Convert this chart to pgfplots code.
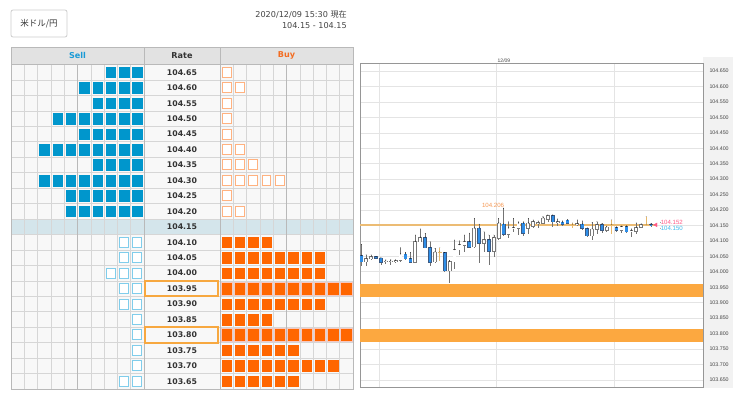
\documentclass[border=0pt]{standalone}
\usepackage{fontspec}
\setmainfont{DejaVu Sans}
\newfontfamily\cjk{Noto Sans CJK JP}
\newfontfamily\lib{Liberation Sans}
\usepackage{pgfplots}
\usepackage{pgfplotstable}
\pgfplotsset{compat=1.18}

\definecolor{sellblue}{RGB}{0,150,204}
\definecolor{sellhollow}{RGB}{128,205,235}
\definecolor{buyorange}{RGB}{255,102,0}
\definecolor{buyhollow}{RGB}{255,178,128}
\definecolor{cellbg}{RGB}{248,248,248}
\definecolor{gridc}{RGB}{214,214,214}
\definecolor{gridd}{RGB}{185,185,185}
\definecolor{headbg}{RGB}{226,226,226}
\definecolor{rowblue}{RGB}{212,229,235}
\definecolor{pinkhl}{RGB}{247,200,192}
\definecolor{boxorange}{RGB}{247,168,64}
\definecolor{txt}{RGB}{51,51,51}
\definecolor{datetxt}{RGB}{68,68,68}
\definecolor{selltxt}{RGB}{26,154,214}
\definecolor{buytxt}{RGB}{243,108,33}
\definecolor{bandor}{RGB}{252,168,64}
\definecolor{curline}{RGB}{236,188,116}
\definecolor{candleblue}{RGB}{46,142,232}
\definecolor{candleedge}{RGB}{60,90,130}
\definecolor{wickc}{RGB}{115,115,115}
\definecolor{bulledge}{RGB}{120,120,120}
\definecolor{dojitan}{RGB}{232,184,106}
\definecolor{chartgrid}{RGB}{228,228,228}
\definecolor{chartborder}{RGB}{150,150,150}
\definecolor{labelgray}{RGB}{242,242,242}
\definecolor{labtxt}{RGB}{68,68,68}
\definecolor{pinklab}{RGB}{255,90,135}
\definecolor{bluelab}{RGB}{60,185,235}
\definecolor{hilab}{RGB}{245,150,80}
\definecolor{btnborder}{RGB}{204,204,204}

\pgfplotsset{
  wick/.style={only marks, mark=*, mark size=0.01pt, mark options={draw=none,fill=none}, forget plot,
    error bars/.cd, y dir=minus, y explicit, error mark=none, error bar style={draw=#1, line width=0.75pt}},
  body/.style 2 args={only marks, mark=*, mark size=0.01pt, mark options={draw=none,fill=none}, forget plot,
    error bars/.cd, y dir=minus, y explicit, error mark=none, error bar style={draw=#1, line width=#2}},
}

% candles: i high low bodytop bodybottom
\pgfplotstableread{
i h l t b
1 104.089 104.020 104.052 104.033
4 104.050 104.042 104.048 104.044
5 104.046 104.022 104.044 104.031
10 104.063 104.037 104.057 104.042
11 104.063 104.029 104.042 104.031
14 104.124 104.076 104.111 104.078
15 104.098 104.020 104.078 104.031
18 104.063 103.998 104.061 104.003
23 104.125 104.076 104.098 104.080
25 104.154 104.028 104.141 104.092
27 104.119 104.022 104.103 104.067
30 104.206 104.117 104.154 104.121
34 104.162 104.117 104.157 104.125
40 104.184 104.146 104.182 104.162
42 104.165 104.149 104.160 104.154
43 104.169 104.156 104.167 104.158
46 104.165 104.135 104.154 104.141
47 104.143 104.114 104.139 104.117
50 104.157 104.127 104.152 104.135
53 104.146 104.130 104.143 104.134
55 104.149 104.127 104.146 104.130
60 104.157 104.146 104.153 104.152
}\beartab

\pgfplotstableread{
i h l t b
2 104.055 104.020 104.042 104.033
3 104.055 104.037 104.048 104.042
6 104.039 104.024 104.034 104.033
7 104.039 104.022 104.034 104.033
8 104.039 104.029 104.036 104.035
9 104.078 104.033 104.057 104.037
12 104.119 104.029 104.098 104.031
13 104.139 104.096 104.111 104.098
16 104.076 104.029 104.063 104.033
19 104.037 103.964 104.033 104.003
20 104.103 104.010 104.071 104.033
21 104.100 104.055 104.087 104.071
22 104.119 104.065 104.098 104.087
24 104.173 104.076 104.141 104.081
26 104.130 104.065 104.103 104.092
28 104.119 104.049 104.111 104.067
29 104.173 104.103 104.157 104.108
31 104.162 104.111 104.141 104.121
32 104.173 104.130 104.142 104.141
33 104.162 104.119 104.157 104.141
35 104.173 104.121 104.157 104.141
36 104.168 104.141 104.162 104.148
37 104.165 104.141 104.158 104.157
38 104.179 104.154 104.173 104.157
39 104.184 104.162 104.182 104.170
41 104.171 104.149 104.162 104.161
45 104.168 104.149 104.156 104.155
48 104.160 104.103 104.138 104.117
49 104.162 104.121 104.152 104.138
51 104.148 104.130 104.144 104.135
54 104.148 104.125 104.146 104.135
56 104.139 104.114 104.133 104.132
57 104.158 104.121 104.143 104.132
58 104.156 104.141 104.152 104.144
}\bulltab

\pgfplotstableread{
i h l t b
17 104.078 104.035 104.063 104.063
44 104.158 104.141 104.152 104.152
52 104.168 104.121 104.152 104.152
59 104.179 104.148 104.152 104.152
}\dojitab

\pgfplotstableread{
x y
0.735 104.15
61.0 104.15
}\curtab

\begin{document}
\begin{tikzpicture}[x=1pt,y=1pt]
\path (0,0) rectangle (740,399);

% currency button and time stamp
\draw[draw=btnborder, fill=white, rounded corners=2pt, line width=0.8pt] (11,362) rectangle (67,389);
\node[font=\cjk\fontsize{8.5}{10}\selectfont, text=txt] at (39,375.5) {米ドル/円};
\node[anchor=base east, inner sep=0pt, font=\fontsize{8.1}{10}\selectfont, text=datetxt] at (347,381) {2020/12/09 15:30 {\cjk 現在}};
\node[anchor=base east, inner sep=0pt, font=\fontsize{8.1}{10}\selectfont, text=datetxt] at (347,370) {104.15 - 104.15};

% table header
\fill[headbg] (11,334.45) rectangle (353,352);
\draw[gridd, line width=0.6pt] (11,334.45) rectangle (353,352);
\draw[gridd, line width=0.6pt] (144,334.45) -- (144,352) (220,334.45) -- (220,352);
\node[font=\bfseries\fontsize{8.1}{10}\selectfont, text=selltxt] at (77.5,343.2) {Sell};
\node[font=\bfseries\fontsize{8.1}{10}\selectfont, text=txt] at (182,343.2) {Rate};
\node[font=\bfseries\fontsize{8.1}{10}\selectfont, text=buytxt] at (286.5,343.2) {Buy};

% grey band behind the price scale
\fill[labelgray] (703,11) rectangle (733,342);

% table backgrounds
\begin{axis}[at={(11pt,10pt)}, anchor=south west, scale only axis, width=342pt, height=324.45pt,
  xmin=0, xmax=25.714, ymin=103.625, ymax=104.675, hide axis]
\addplot[fill=cellbg, draw=none] coordinates {(0,103.625) (25.714,103.625) (25.714,104.675) (0,104.675)};
\addplot[fill=rowblue, draw=none] coordinates {(0,104.125) (25.714,104.125) (25.714,104.175) (0,104.175)};
\addplot[fill=pinkhl, draw=none] coordinates {(15.714,103.925) (25.714,103.925) (25.714,103.975) (15.714,103.975)};
\addplot[fill=pinkhl, draw=none] coordinates {(15.714,103.775) (25.714,103.775) (25.714,103.825) (15.714,103.825)};
\end{axis}

% table grid and squares
\begin{axis}[at={(11pt,10pt)}, anchor=south west, scale only axis, width=342pt, height=324.45pt,
  xmin=0, xmax=25.714, ymin=103.625, ymax=104.675,
  axis line style={draw=gridd, line width=0.6pt},
  xtick={0,1,2,3,4,5,6,7,8,9,10,15.714,16.714,17.714,18.714,19.714,20.714,21.714,22.714,23.714,24.714,25.714},
  ytick={103.625,103.675,103.725,103.775,103.825,103.875,103.925,103.975,104.025,104.075,104.125,104.175,104.225,104.275,104.325,104.375,104.425,104.475,104.525,104.575,104.625,104.675},
  xticklabels={}, yticklabels={}, tick style={draw=none}, major tick length=0pt,
  grid=major, major grid style={draw=gridc, line width=0.6pt},
  extra x ticks={5,10,15.714,20.714}, extra x tick labels={},
  extra x tick style={grid=major, major grid style={draw=gridd, line width=0.6pt}},
  clip=false]
% Sell, filled
\addplot[only marks, mark=square*, mark size=5.3pt, mark options={xscale=0.88, draw=sellblue, fill=sellblue, line width=0.4pt}] coordinates {
(7.5,104.65) (8.5,104.65) (9.5,104.65)
(5.5,104.60) (6.5,104.60) (7.5,104.60) (8.5,104.60) (9.5,104.60)
(6.5,104.55) (7.5,104.55) (8.5,104.55) (9.5,104.55)
(3.5,104.50) (4.5,104.50) (5.5,104.50) (6.5,104.50) (7.5,104.50) (8.5,104.50) (9.5,104.50)
(5.5,104.45) (6.5,104.45) (7.5,104.45) (8.5,104.45) (9.5,104.45)
(2.5,104.40) (3.5,104.40) (4.5,104.40) (5.5,104.40) (6.5,104.40) (7.5,104.40) (8.5,104.40) (9.5,104.40)
(6.5,104.35) (7.5,104.35) (8.5,104.35) (9.5,104.35)
(2.5,104.30) (3.5,104.30) (4.5,104.30) (5.5,104.30) (6.5,104.30) (7.5,104.30) (8.5,104.30) (9.5,104.30)
(4.5,104.25) (5.5,104.25) (6.5,104.25) (7.5,104.25) (8.5,104.25) (9.5,104.25)
(4.5,104.20) (5.5,104.20) (6.5,104.20) (7.5,104.20) (8.5,104.20) (9.5,104.20)
};
% Sell, hollow
\addplot[only marks, mark=square*, mark size=5pt, mark options={xscale=0.88, draw=sellhollow, fill=white, line width=1pt}] coordinates {
(8.5,104.10) (9.5,104.10)
(8.5,104.05) (9.5,104.05)
(7.5,104.00) (8.5,104.00) (9.5,104.00)
(8.5,103.95) (9.5,103.95)
(8.5,103.90) (9.5,103.90)
(9.5,103.85) (9.5,103.80) (9.5,103.75) (9.5,103.70)
(8.5,103.65) (9.5,103.65)
};
% Buy, hollow
\addplot[only marks, mark=square*, mark size=5pt, mark options={xscale=0.88, draw=buyhollow, fill=white, line width=1pt}] coordinates {
(16.214,104.65)
(16.214,104.60) (17.214,104.60)
(16.214,104.55) (16.214,104.50) (16.214,104.45)
(16.214,104.40) (17.214,104.40)
(16.214,104.35) (17.214,104.35) (18.214,104.35)
(16.214,104.30) (17.214,104.30) (18.214,104.30) (19.214,104.30) (20.214,104.30)
(16.214,104.25)
(16.214,104.20) (17.214,104.20)
};
% Buy, filled
\addplot[only marks, mark=square*, mark size=5.3pt, mark options={xscale=0.88, draw=buyorange, fill=buyorange, line width=0.4pt}] coordinates {
(16.214,104.10) (17.214,104.10) (18.214,104.10) (19.214,104.10)
(16.214,104.05) (17.214,104.05) (18.214,104.05) (19.214,104.05) (20.214,104.05) (21.214,104.05) (22.214,104.05) (23.214,104.05)
(16.214,104.00) (17.214,104.00) (18.214,104.00) (19.214,104.00) (20.214,104.00) (21.214,104.00) (22.214,104.00) (23.214,104.00)
(16.214,103.95) (17.214,103.95) (18.214,103.95) (19.214,103.95) (20.214,103.95) (21.214,103.95) (22.214,103.95) (23.214,103.95) (24.214,103.95) (25.214,103.95)
(16.214,103.90) (17.214,103.90) (18.214,103.90) (19.214,103.90) (20.214,103.90) (21.214,103.90) (22.214,103.90) (23.214,103.90)
(16.214,103.85) (17.214,103.85) (18.214,103.85) (19.214,103.85)
(16.214,103.80) (17.214,103.80) (18.214,103.80) (19.214,103.80) (20.214,103.80) (21.214,103.80) (22.214,103.80) (23.214,103.80) (24.214,103.80) (25.214,103.80)
(16.214,103.75) (17.214,103.75) (18.214,103.75) (19.214,103.75) (20.214,103.75) (21.214,103.75)
(16.214,103.70) (17.214,103.70) (18.214,103.70) (19.214,103.70) (20.214,103.70) (21.214,103.70) (22.214,103.70) (23.214,103.70) (24.214,103.70)
(16.214,103.65) (17.214,103.65) (18.214,103.65) (19.214,103.65) (20.214,103.65) (21.214,103.65)
};
% highlighted rate cells
\draw[boxorange, line width=2pt] (10.08,103.925) rectangle (15.56,103.975);
\draw[boxorange, line width=2pt] (10.08,103.775) rectangle (15.56,103.825);
% rate labels
\addplot[only marks, mark=*, mark size=0.01pt, mark options={draw=none,fill=none},
  point meta=explicit symbolic, nodes near coords,
  every node near coord/.append style={anchor=center, inner sep=0pt, font=\bfseries\fontsize{7.8}{9}\selectfont, text=txt}]
 coordinates {
(12.857,104.65)[104.65] (12.857,104.60)[104.60] (12.857,104.55)[104.55] (12.857,104.50)[104.50]
(12.857,104.45)[104.45] (12.857,104.40)[104.40] (12.857,104.35)[104.35] (12.857,104.30)[104.30]
(12.857,104.25)[104.25] (12.857,104.20)[104.20] (12.857,104.15)[104.15] (12.857,104.10)[104.10]
(12.857,104.05)[104.05] (12.857,104.00)[104.00] (12.857,103.95)[103.95] (12.857,103.90)[103.90]
(12.857,103.85)[103.85] (12.857,103.80)[103.80] (12.857,103.75)[103.75] (12.857,103.70)[103.70]
(12.857,103.65)[103.65]
};
\end{axis}

% candlestick chart
\begin{axis}[at={(360pt,12pt)}, anchor=south west, scale only axis, width=343pt, height=324pt,
  xmin=0.735, xmax=70.59, ymin=103.627, ymax=104.676,
  axis line style={draw=chartborder, line width=0.8pt},
  xtick={4.6,28.55,52.5}, xticklabels={},
  ytick={103.65,103.70,103.75,103.80,103.85,103.90,103.95,104.00,104.05,104.10,104.15,104.20,104.25,104.30,104.35,104.40,104.45,104.50,104.55,104.60,104.65},
  yticklabels={103.650,103.700,103.750,103.800,103.850,103.900,103.950,104.000,104.050,104.100,104.150,104.200,104.250,104.300,104.350,104.400,104.450,104.500,104.550,104.600,104.650},
  yticklabel pos=right,
  yticklabel style={font=\lib\fontsize{5.3}{6}\selectfont, text=labtxt, xshift=3pt},
  tick style={draw=none}, major tick length=0pt,
  grid=major, major grid style={draw=chartgrid, line width=0.6pt}]
% support / resistance bands
\addplot[fill=bandor, draw=none] coordinates {(0.735,103.920) (70.59,103.920) (70.59,103.961) (0.735,103.961)};
\addplot[fill=bandor, draw=none] coordinates {(0.735,103.774) (70.59,103.774) (70.59,103.815) (0.735,103.815)};
% current rate line
\addplot[color=curline, solid, line width=2pt, mark=none, sharp plot] table[x=x, y=y] {\curtab};
% wicks
\addplot[wick=wickc] table[x=i, y=h, y error minus expr=\thisrow{h}-\thisrow{l}] {\bulltab};
\addplot[wick=wickc] table[x=i, y=h, y error minus expr=\thisrow{h}-\thisrow{l}] {\beartab};
\addplot[wick=dojitan] table[x=i, y=h, y error minus expr=\thisrow{h}-\thisrow{l}] {\dojitab};
% bodies
\addplot[body={bulledge}{3.7pt}] table[x=i, y expr=\thisrow{t}+0.0019, y error minus expr=\thisrow{t}-\thisrow{b}+0.0038] {\bulltab};
\addplot[body={white}{2.3pt}] table[x=i, y=t, y error minus expr=\thisrow{t}-\thisrow{b}] {\bulltab};
\addplot[body={candleedge}{3.7pt}] table[x=i, y expr=\thisrow{t}+0.0019, y error minus expr=\thisrow{t}-\thisrow{b}+0.0038] {\beartab};
\addplot[body={candleblue}{2.5pt}] table[x=i, y=t, y error minus expr=\thisrow{t}-\thisrow{b}] {\beartab};
\addplot[body={dojitan}{3.7pt}] table[x=i, y expr=\thisrow{t}+0.0019, y error minus expr=\thisrow{t}-\thisrow{b}+0.0038] {\dojitab};
% high label
\addplot[only marks, mark=*, mark size=0.01pt, mark options={draw=none,fill=none},
  point meta=explicit symbolic, nodes near coords,
  every node near coord/.append style={anchor=south east, inner sep=0pt, xshift=0.6pt, font=\lib\fontsize{6.1}{7}\selectfont, text=hilab}]
 coordinates {(30,104.206)[104.206]};
% last price marker and labels
\addplot[only marks, mark=triangle*, mark size=2.2pt, mark options={rotate=90, fill=pinklab, draw=pinklab}] coordinates {(61.0,104.152)};
\addplot[only marks, mark=*, mark size=0.01pt, mark options={draw=none,fill=none},
  point meta=explicit symbolic, nodes near coords,
  every node near coord/.append style={anchor=west, inner sep=0pt, font=\lib\fontsize{6.1}{7}\selectfont, text=pinklab}]
 coordinates {(61.95,104.159)[104.152]};
\addplot[only marks, mark=*, mark size=0.01pt, mark options={draw=none,fill=none},
  point meta=explicit symbolic, nodes near coords,
  every node near coord/.append style={anchor=west, inner sep=0pt, font=\lib\fontsize{6.1}{7}\selectfont, text=bluelab}]
 coordinates {(61.95,104.141)[104.150]};
\end{axis}

\node[anchor=south west, inner sep=0pt, font=\lib\fontsize{5}{6}\selectfont, text=labtxt] at (497.5,336.6) {12/09};
\end{tikzpicture}
\end{document}
